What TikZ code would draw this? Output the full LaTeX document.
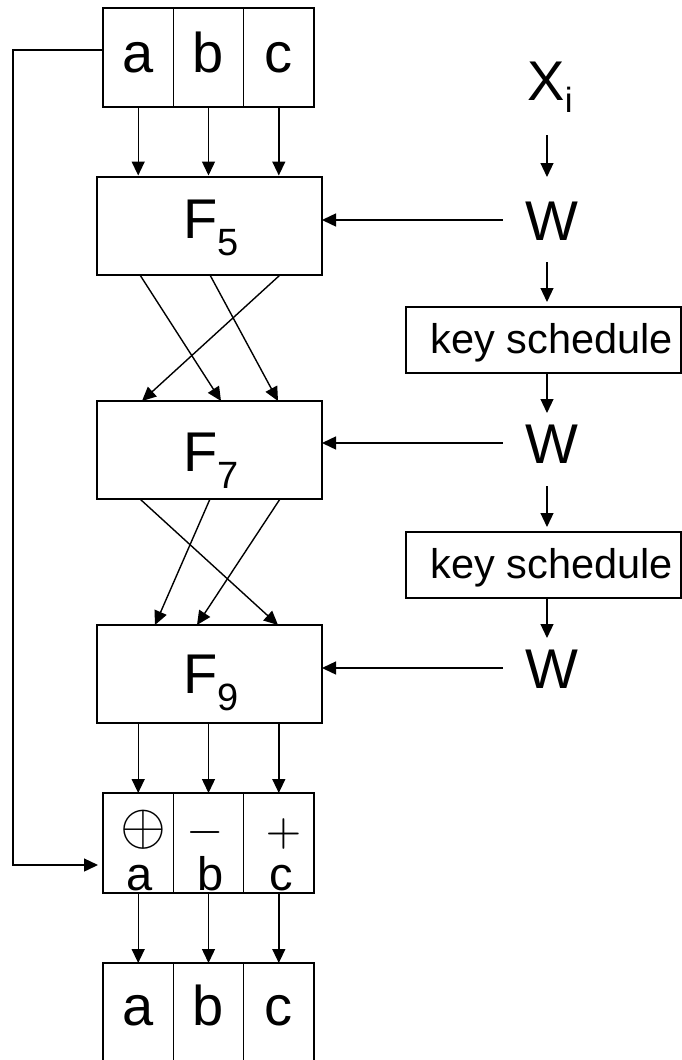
\documentclass[tikz,border=0pt]{standalone}
\usepackage{graphicx}
\usepackage{fontspec}
\setmainfont{Liberation Sans}
\usetikzlibrary{arrows.meta}
\begin{document}
\begin{tikzpicture}[x=1pt,y=-1pt,
  every node/.style={inner sep=0pt, outer sep=0pt},
  box/.style={draw, line width=1.4pt},
  cell/.style={box, minimum width=70.4pt, minimum height=99pt, text height=36pt, text depth=7pt, font=\fontsize{56}{60}\selectfont},
  bcell/.style={box, minimum width=70.4pt, minimum height=110pt, text height=36pt, text depth=22pt, font=\fontsize{56}{60}\selectfont},
  opcell/.style={box, minimum width=70.4pt, minimum height=100pt},
  fbox/.style={box, minimum width=225pt, minimum height=98pt},
  ksbox/.style={draw, line width=1.2pt, minimum width=275pt, minimum height=66pt, text height=30pt, text depth=4pt, font=\fontsize{41.5}{44}\selectfont},
  big/.style={font=\fontsize{56}{60}\selectfont},
  wnode/.style={big, text height=40pt, text depth=0pt, inner xsep=23pt},
  flabel/.style={big, anchor=base west},
  oplabel/.style={anchor=base, font=\fontsize{47}{50}\selectfont},
  opsym/.style={font=\fontsize{10}{12}\selectfont},
  arr/.style={line width=1.4pt, -{Triangle[length=14pt,width=13pt]}},
  sarr/.style={line width=1.2pt, -{Triangle[length=14pt,width=13pt]}},
]
\useasboundingbox (0,0) rectangle (682,1060);

% top register
\node[cell] (ta) at (138.2,57.5) {a};
\node[cell] (tb) at (208.5,57.5) {b};
\node[cell] (tc) at (278.8,57.5) {c};

% round functions
\node[fbox] (F5) at (209.5,226) {};
\node[flabel] (F5t) at (183.5,238) {F\raisebox{-17pt}{\fontsize{38}{40}\selectfont 5}};
\node[fbox] (F7) at (209.5,450) {};
\node[flabel] (F7t) at (183.5,471) {F\raisebox{-17pt}{\fontsize{38}{40}\selectfont 7}};
\node[fbox] (F9) at (209.5,674) {};
\node[flabel] (F9t) at (183.5,693) {F\raisebox{-17pt}{\fontsize{38}{40}\selectfont 9}};

% feed-forward register
\node[opcell] (oa) at (138.2,843) {};
\node[opcell] (ob) at (208.5,843) {};
\node[opcell] (oc) at (278.8,843) {};
\node[opsym] (oplus) at (143,829.5) {\scalebox{5.9}{$\oplus$}};
\node[opsym] (ominus) at (205.5,832) {\scalebox{4.8}{$-$}};
\node[opsym] (oplusb) at (283.5,833.5) {\scalebox{4.6}{$+$}};
\node[oplabel] (la) at (140,890) {a};
\node[oplabel] (lb) at (210.5,890) {b};
\node[oplabel] (lc) at (281.5,890) {c};

% bottom register
\node[bcell] (ba) at (138.2,1018) {a};
\node[bcell] (bb) at (208.5,1018) {b};
\node[bcell] (bc) at (278.8,1018) {c};

% key column
\coordinate (col) at (547,0);
\node[big, anchor=base west, text height=40pt, text depth=0pt] (X) at (527.5,100) {X\raisebox{-12pt}{\fontsize{35}{38}\selectfont i}};
\node[wnode] (W1) at (552,220) {W};
\node[ksbox] (ks1) at (543.5,340) {\hspace*{17pt}key schedule};
\node[wnode] (W2) at (552,443) {W};
\node[ksbox] (ks2) at (543.5,565) {\hspace*{17pt}key schedule};
\node[wnode] (W3) at (552,668) {W};

\draw[sarr, shorten <=35pt, shorten >=23pt] (X.south -| col) -- (W1.north -| col);
\draw[sarr, shorten <=22pt, shorten >=5pt] (W1.south -| col) -- (ks1.north -| col);
\draw[sarr, shorten >=10pt] (ks1.south -| col) -- (W2.north -| col);
\draw[sarr, shorten <=23pt, shorten >=5pt] (W2.south -| col) -- (ks2.north -| col);
\draw[sarr, shorten >=10pt] (ks2.south -| col) -- (W3.north -| col);

\draw[arr] (W1.west) -- (W1.west -| F5.east);
\draw[arr] (W2.west) -- (W2.west -| F7.east);
\draw[arr] (W3.west) -- (W3.west -| F9.east);

% top -> F5
\foreach \c in {ta,tb,tc} {
  \draw[arr, shorten >=1.5pt] (\c.south) -- (\c.south |- F5.north);
}
% F5 -> F7
\draw[arr] ([xshift=-69.5pt]F5.south) -- ([xshift=11.5pt]F7.north);
\draw[arr] ([xshift=0.5pt]F5.south) -- ([xshift=68.5pt]F7.north);
\draw[arr] ([xshift=70.5pt]F5.south) -- ([xshift=-67.5pt]F7.north);
% F7 -> F9
\draw[arr] ([xshift=-69.5pt]F7.south) -- ([xshift=68.5pt]F9.north);
\draw[arr] ([xshift=0.5pt]F7.south) -- ([xshift=-54.5pt]F9.north);
\draw[arr] ([xshift=70.5pt]F7.south) -- ([xshift=-12.5pt]F9.north);
% F9 -> feed-forward
\draw[arr] (F9.south -| oa) -- (oa.north);
\draw[arr] (F9.south -| ob) -- (ob.north);
\draw[arr] (F9.south -| oc) -- (oc.north);
% feed-forward -> output
\draw[arr] (oa.south) -- (ba.north);
\draw[arr] (ob.south) -- (bb.north);
\draw[arr] (oc.south) -- (bc.north);

% feedback line
\draw[arr, shorten >=5pt] ([yshift=7.5pt]ta.west) -- ++(-90,0) |- ([yshift=-22pt]oa.west);
\end{tikzpicture}
\end{document}
